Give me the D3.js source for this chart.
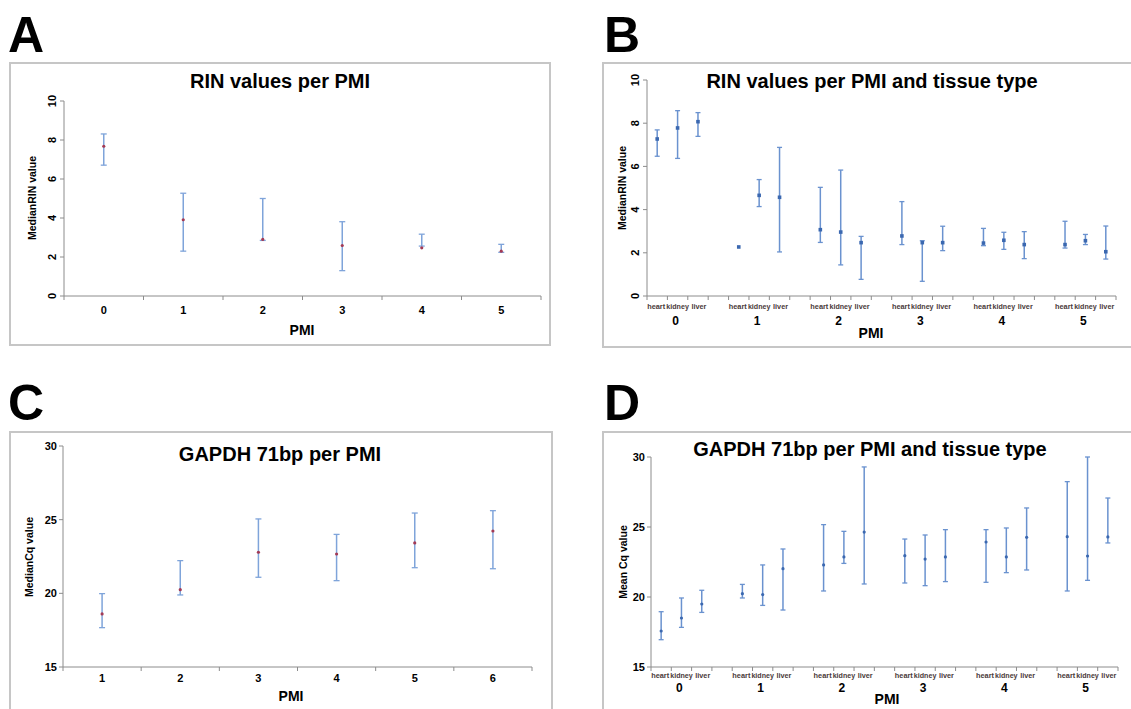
<!DOCTYPE html>
<html>
<head>
<meta charset="utf-8">
<script src="https://cdn.jsdelivr.net/npm/d3@7"></script>
<style>
  body { margin: 0; background: #fff; }
  svg { font-family: "Liberation Sans", Arial, sans-serif; }
</style>
</head>
<body>
<svg id="fig" width="1131" height="709"></svg>
<script>
// ---- data ----
const tissues = ["heart", "kidney", "liver"];
const tissueWidth = { heart: 18, kidney: 22.5, liver: 15 };

// A: RIN per PMI
const pmiA = [0, 1, 2, 3, 4, 5];
const rinMed = [7.68, 3.91, 2.90, 2.59, 2.47, 2.30];
const rinHigh = [8.31, 5.27, 5.00, 3.81, 3.17, 2.65];
const rinLow = [6.71, 2.30, 2.85, 1.30, 2.56, 2.24];

// B: RIN per PMI and tissue (rows = PMI 0..5, cols = heart, kidney, liver)
const pmiB = [0, 1, 2, 3, 4, 5];
const rinTisMed = [[7.27, 7.78, 8.07], [2.27, 4.66, 4.57], [3.07, 2.96, 2.47], [2.78, 2.47, 2.47], [2.45, 2.58, 2.38], [2.38, 2.56, 2.05]];
const rinTisHigh = [[7.69, 8.58, 8.49], [null, 5.39, 6.88], [5.03, 5.83, 2.76], [4.37, 2.56, 3.23], [3.13, 2.95, 2.98], [3.46, 2.85, 3.24]];
const rinTisLow = [[6.47, 6.37, 7.39], [null, 4.14, 2.04], [2.48, 1.44, 0.77], [2.38, 0.68, 2.10], [2.33, 2.16, 1.73], [2.22, 2.38, 1.71]];

// C: GAPDH Cq per PMI
const pmiC = [1, 2, 3, 4, 5, 6];
const cqMed = [18.60, 20.25, 22.79, 22.67, 23.42, 24.23];
const cqHigh = [19.98, 22.22, 25.05, 24.00, 25.45, 25.61];
const cqLow = [17.67, 19.89, 21.09, 20.86, 21.74, 21.67];

// D: GAPDH Cq per PMI and tissue
const pmiD = [0, 1, 2, 3, 4, 5];
const cqTisMed = [[17.57, 18.50, 19.50], [20.24, 20.17, 22.02], [22.29, 22.86, 24.64], [22.95, 22.71, 22.86], [23.93, 22.86, 24.26], [24.31, 22.93, 24.29]];
const cqTisHigh = [[18.95, 19.93, 20.48], [20.90, 22.29, 23.43], [25.17, 24.69, 29.29], [24.14, 24.43, 24.81], [24.81, 24.93, 26.36], [28.24, 30.00, 27.07]];
const cqTisLow = [[16.95, 17.83, 18.90], [19.93, 19.40, 19.07], [20.43, 22.40, 20.93], [21.00, 20.81, 21.10], [21.05, 21.74, 21.93], [20.43, 21.19, 23.86]];

const svg = d3.select("#fig");
const frameCol = "#c6c6c6";
const axisCol = "#8c8c8c";

function frame(x0, y0, x1, y1) {
  svg.append("rect").attr("x", x0).attr("y", y0)
    .attr("width", x1 - x0).attr("height", y1 - y0)
    .attr("fill", "none").attr("stroke", frameCol).attr("stroke-width", 2);
}

function letter(t, x, y) {
  svg.append("text").attr("x", x).attr("y", y).text(t)
    .attr("font-size", 50).attr("font-weight", "bold");
}

function title(t, x, y) {
  svg.append("text").attr("x", x).attr("y", y).text(t)
    .attr("text-anchor", "middle").attr("font-size", 20).attr("font-weight", "bold");
}

function ylabel(t, x, y) {
  svg.append("text").attr("transform", `translate(${x},${y}) rotate(-90)`)
    .attr("text-anchor", "middle").attr("dy", "0.35em")
    .attr("font-size", 10.5).attr("font-weight", "bold").text(t);
}

function xlabel(t, x, y) {
  svg.append("text").attr("x", x).attr("y", y).attr("dy", "0.35em")
    .attr("text-anchor", "middle").attr("font-size", 14).attr("font-weight", "bold").text(t);
}

function yAxis(y, x, ticks, rotated, tickX) {
  const g = svg.append("g");
  g.append("line").attr("x1", x).attr("x2", x)
    .attr("y1", y.range()[0]).attr("y2", y.range()[1]).attr("stroke", axisCol);
  ticks.forEach(v => {
    g.append("line").attr("x1", x - 4).attr("x2", x).attr("y1", y(v)).attr("y2", y(v)).attr("stroke", axisCol);
    if (rotated) {
      g.append("text").attr("transform", `translate(${tickX},${y(v)}) rotate(-90)`)
        .attr("text-anchor", "middle").attr("font-size", 11).attr("font-weight", "bold").text(v);
    } else {
      g.append("text").attr("x", tickX).attr("y", y(v)).attr("dy", "0.35em")
        .attr("text-anchor", "end").attr("font-size", 11).attr("font-weight", "bold").text(v);
    }
  });
}

function errorBars(pts, col, capW, markCol, markShape) {
  const g = svg.append("g");
  pts.forEach(p => {
    if (p.hi != null) {
      g.append("line").attr("x1", p.x).attr("x2", p.x).attr("y1", p.yh).attr("y2", p.yl)
        .attr("stroke", col).attr("stroke-width", 1.5);
      [p.yh, p.yl].forEach(yy => g.append("line")
        .attr("x1", p.x - capW).attr("x2", p.x + capW).attr("y1", yy).attr("y2", yy)
        .attr("stroke", col).attr("stroke-width", 1.3));
    }
    if (markShape === "square") {
      g.append("rect").attr("x", p.x - 1.8).attr("y", p.ym - 1.8).attr("width", 3.6).attr("height", 3.6).attr("fill", markCol);
    } else {
      g.append("circle").attr("cx", p.x).attr("cy", p.ym).attr("r", 1.6).attr("fill", markCol);
    }
  });
}

// ---------- simple category panels (A, C) ----------
function simplePanel(o) {
  const x = d3.scaleBand().domain(o.cats).range([o.x0, o.x1]);
  const y = d3.scaleLinear().domain(o.ydom).range([o.yb, o.yt]);
  svg.append("line").attr("x1", o.x0).attr("x2", o.x1).attr("y1", o.yb).attr("y2", o.yb).attr("stroke", axisCol);
  o.cats.forEach(c => {
    svg.append("line").attr("x1", x(c)).attr("x2", x(c)).attr("y1", o.yb).attr("y2", o.yb + 4).attr("stroke", axisCol);
    svg.append("text").attr("x", x(c) + x.bandwidth() / 2).attr("y", o.tickY).attr("dy", "0.35em")
      .attr("text-anchor", "middle").attr("font-size", 11).attr("font-weight", "bold").text(c);
  });
  svg.append("line").attr("x1", o.x1).attr("x2", o.x1).attr("y1", o.yb).attr("y2", o.yb + 4).attr("stroke", axisCol);
  yAxis(y, o.x0, o.yticks, o.rot, o.tickX);
  const pts = o.cats.map((c, i) => ({
    x: x(c) + x.bandwidth() / 2, hi: o.hi[i],
    yh: y(o.hi[i]), yl: y(o.lo[i]), ym: y(o.med[i])
  }));
  errorBars(pts, "#7fa4da", 3, "#a33a55", "dot");
}

// ---------- tissue panels (B, D) ----------
function tissuePanel(o) {
  const keys = [];
  o.groups.forEach((g, gi) => {
    tissues.forEach(t => keys.push(g + "-" + t));
    if (gi < o.groups.length - 1) keys.push(g + "-gap");
  });
  const x = d3.scaleBand().domain(keys).range([o.x0, o.x1]);
  const y = d3.scaleLinear().domain(o.ydom).range([o.yb, o.yt]);
  svg.append("line").attr("x1", o.x0).attr("x2", o.x1).attr("y1", o.yb).attr("y2", o.yb).attr("stroke", axisCol);
  keys.concat([null]).forEach(k => {
    const xx = k == null ? o.x1 : x(k);
    svg.append("line").attr("x1", xx).attr("x2", xx).attr("y1", o.yb).attr("y2", o.yb + 4).attr("stroke", axisCol);
  });
  const pts = [];
  o.groups.forEach((g, gi) => {
    tissues.forEach((t, ti) => {
      const cx = x(g + "-" + t) + x.bandwidth() / 2;
      // labels packed like the original: "heartkidney liver"
      const shift = t === "heart" ? -1 : (t === "liver" ? 1 : 0);
      svg.append("text").attr("x", cx + shift).attr("y", o.tisY).attr("dy", "0.35em")
        .attr("text-anchor", "middle").attr("font-size", 8).attr("font-weight", "bold")
        .attr("fill", "#4a3a3a").attr("textLength", tissueWidth[t])
        .attr("lengthAdjust", "spacingAndGlyphs").text(t);
      const hi = o.hi[gi][ti];
      pts.push({ x: cx, hi: hi, yh: hi == null ? 0 : y(hi), yl: hi == null ? 0 : y(o.lo[gi][ti]), ym: y(o.med[gi][ti]) });
    });
    const gx = x(g + "-kidney") + x.bandwidth() / 2 - 2;
    svg.append("text").attr("x", gx).attr("y", o.grpY).attr("dy", "0.35em")
      .attr("text-anchor", "middle").attr("font-size", 12).attr("font-weight", "bold").text(g);
  });
  yAxis(y, o.x0, o.yticks, o.rot, o.tickX);
  errorBars(pts, "#6a92cf", 2.5, "#3b68b0", o.mark);
}

// Panel A
frame(10, 63, 550, 345);
letter("A", 8, 52);
title("RIN values per PMI", 280, 88);
simplePanel({ cats: pmiA, x0: 64, x1: 541, yb: 296, yt: 101, ydom: [0, 10], yticks: [0, 2, 4, 6, 8, 10],
  rot: true, tickX: 56, tickY: 310, med: rinMed, hi: rinHigh, lo: rinLow });
ylabel("MedianRIN value", 32, 198);
xlabel("PMI", 302, 330);

// Panel B
frame(603, 63, 1132, 347);
letter("B", 604, 52);
title("RIN values per PMI and tissue type", 872, 88);
tissuePanel({ groups: pmiB, x0: 647, x1: 1116, yb: 296, yt: 80, ydom: [0, 10], yticks: [0, 2, 4, 6, 8, 10],
  rot: true, tickX: 639, tisY: 306, grpY: 321, med: rinTisMed, hi: rinTisHigh, lo: rinTisLow, mark: "square" });
ylabel("MedianRIN value", 622, 188);
xlabel("PMI", 871, 333);

// Panel C
frame(10, 432, 552, 712);
letter("C", 8, 420);
title("GAPDH 71bp per PMI", 280, 461);
simplePanel({ cats: pmiC, x0: 63, x1: 532, yb: 667, yt: 446, ydom: [15, 30], yticks: [15, 20, 25, 30],
  rot: false, tickX: 57, tickY: 678, med: cqMed, hi: cqHigh, lo: cqLow });
ylabel("MedianCq value", 29, 557);
xlabel("PMI", 291, 696);

// Panel D
frame(603, 432, 1132, 712);
letter("D", 604, 420);
title("GAPDH 71bp per PMI and tissue type", 870, 456);
tissuePanel({ groups: pmiD, x0: 651, x1: 1118, yb: 667, yt: 457, ydom: [15, 30], yticks: [15, 20, 25, 30],
  rot: false, tickX: 645, tisY: 675, grpY: 688, med: cqTisMed, hi: cqTisHigh, lo: cqTisLow, mark: "dot" });
ylabel("Mean Cq value", 623, 562);
xlabel("PMI", 887, 699);
</script>
</body>
</html>
